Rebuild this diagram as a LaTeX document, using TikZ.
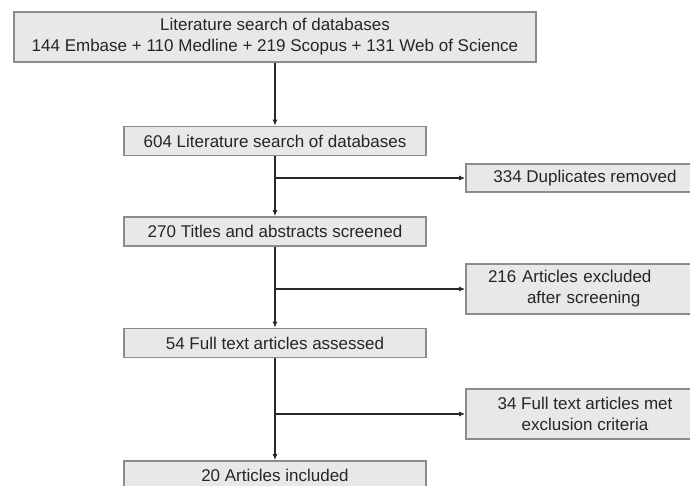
\documentclass[tikz,border=0pt]{standalone}
\usepackage{fontspec}
\setmainfont{Liberation Sans}
\usetikzlibrary{arrows.meta}
\definecolor{boxfill}{RGB}{232,232,232}
\definecolor{boxline}{RGB}{140,140,140}
\definecolor{inkline}{RGB}{40,40,40}

\begin{document}
\begin{tikzpicture}[x=1pt, y=-1pt,
    stage/.style={draw=boxline, line width=1.8pt, fill=boxfill, text=black!85,
        font=\fontsize{17pt}{21pt}\selectfont, align=center, inner sep=0pt},
    mainbox/.style={stage, minimum width=302pt, minimum height=29pt},
    sidebox/.style={stage, minimum width=238pt},
    flow/.style={draw=inkline, line width=1.1pt, -{Latex[length=6pt,width=5pt]}}]
    \useasboundingbox (0,0) rectangle (690,486);

    \node[stage, minimum width=522pt, minimum height=50pt] (search) at (275,37)
        {Literature search of databases\\144 Embase + 110 Medline + 219 Scopus + 131 Web of Science};
    \node[mainbox] (merged) at (275,141) {604 Literature search of databases};
    \node[sidebox, minimum height=28pt] (dupes) at (585,178) {334 Duplicates removed};
    \node[mainbox] (screened) at (275,231.5) {270 Titles and abstracts screened};
    \node[sidebox, minimum height=50pt, align=left, text width=194pt, inner xsep=22pt] (excluded) at (585,289)
        {216 Articles excluded\\\hspace*{39pt}after screening};
    \node[mainbox] (assessed) at (275,343) {54 Full text articles assessed};
    \node[sidebox, minimum height=50pt] (criteria) at (585,414)
        {34 Full text articles met\\exclusion criteria};
    \node[mainbox] (included) at (275,475.5) {20 Articles included};

    \coordinate (fork1) at (275,178);
    \coordinate (fork2) at (275,289);
    \coordinate (fork3) at (275,414);

    \draw[flow] (search.south) -- (merged.north);
    \draw[flow] (merged.south) -- (screened.north);
    \draw[flow] (screened.south) -- (assessed.north);
    \draw[flow] (assessed.south) -- (included.north);

    \draw[flow] (fork1) -- (dupes.west);
    \draw[flow] (fork2) -- (excluded.west);
    \draw[flow] (fork3) -- (criteria.west);
\end{tikzpicture}
\end{document}
